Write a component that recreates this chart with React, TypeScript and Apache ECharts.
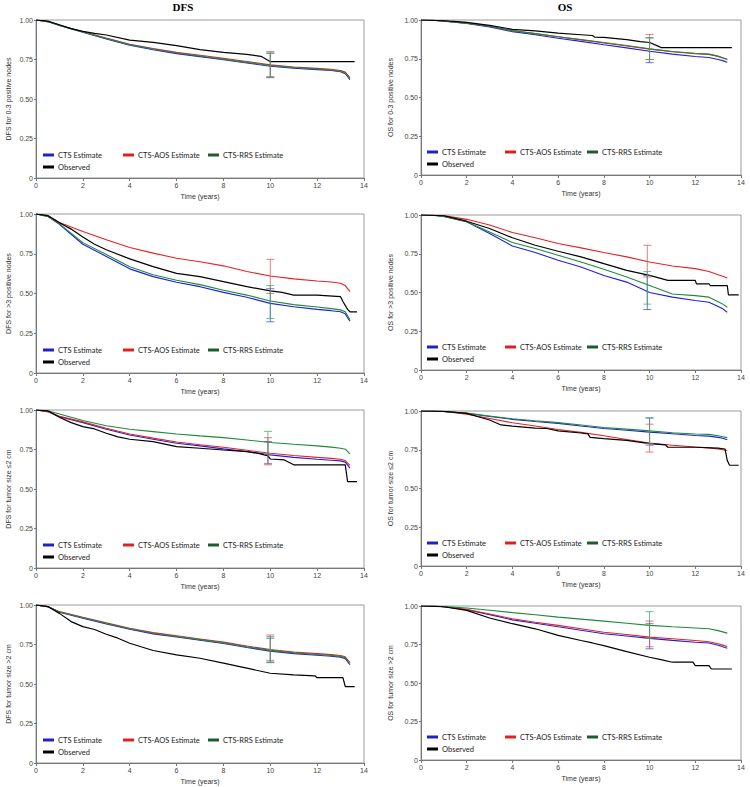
import React, { useEffect, useRef } from "react";
import * as echarts from "echarts";

// ---- shared time grid for model estimates ----
const estTimes = [0, 0.5, 1, 2, 3, 4, 5, 6, 7, 8, 9, 10, 11, 12, 12.6, 13, 13.2, 13.4];
const seriesNames = ["CTS Estimate", "CTS-AOS Estimate", "CTS-RRS Estimate", "Observed"];
const xTicks = [0, 2, 4, 6, 8, 10, 12, 14];
const yTicks = [0, 0.25, 0.5, 0.75, 1];

// ---- Panel 1: DFS, 0-3 positive nodes ----
const dfsN03Cts = [1, 0.99, 0.965, 0.922, 0.88, 0.84, 0.812, 0.787, 0.768, 0.748, 0.728, 0.707, 0.695, 0.686, 0.68, 0.672, 0.66, 0.622];
const dfsN03Aos = [1, 0.99, 0.967, 0.926, 0.886, 0.847, 0.82, 0.795, 0.777, 0.757, 0.737, 0.716, 0.703, 0.694, 0.688, 0.68, 0.67, 0.635];
const dfsN03Rrs = [1, 0.99, 0.966, 0.924, 0.883, 0.844, 0.816, 0.791, 0.772, 0.752, 0.732, 0.712, 0.699, 0.69, 0.684, 0.676, 0.665, 0.628];
const dfsN03Obs = [[0, 1], [0.5, 0.993], [1, 0.97], [1.5, 0.945], [2, 0.928], [2.5, 0.915], [3, 0.905], [4, 0.873], [5, 0.858], [6, 0.838], [7, 0.813], [8, 0.795], [9, 0.782], [9.6, 0.77], [9.9, 0.745], [10, 0.736], [13.6, 0.736]];
const dfsN03Ci = [[10, 0.635, 0.79], [10, 0.64, 0.8], [10, 0.64, 0.79]];

// ---- Panel 2: OS, 0-3 positive nodes ----
const osN03Cts = [1, 0.998, 0.993, 0.978, 0.955, 0.925, 0.905, 0.882, 0.862, 0.84, 0.82, 0.798, 0.78, 0.765, 0.758, 0.745, 0.738, 0.728];
const osN03Aos = [1, 0.998, 0.994, 0.98, 0.96, 0.932, 0.912, 0.892, 0.872, 0.852, 0.832, 0.812, 0.795, 0.782, 0.778, 0.765, 0.755, 0.745];
const osN03Rrs = [1, 0.998, 0.994, 0.98, 0.96, 0.93, 0.912, 0.892, 0.874, 0.855, 0.835, 0.814, 0.797, 0.785, 0.78, 0.767, 0.757, 0.747];
const osN03Obs = [[0, 1], [1, 0.995], [1.6, 0.99], [2, 0.985], [3, 0.965], [3.8, 0.945], [4, 0.94], [5, 0.93], [6, 0.915], [7, 0.905], [7.5, 0.9], [7.6, 0.89], [8, 0.888], [9, 0.873], [9.6, 0.86], [10, 0.855], [10.4, 0.83], [10.5, 0.822], [13.6, 0.822]];
const osN03Ci = [[10, 0.725, 0.885], [10, 0.745, 0.907], [10, 0.745, 0.885]];

// ---- Panel 3: DFS, >3 positive nodes ----
const dfsN4Cts = [1, 0.985, 0.935, 0.81, 0.733, 0.655, 0.606, 0.571, 0.543, 0.507, 0.476, 0.438, 0.417, 0.4, 0.392, 0.385, 0.372, 0.326];
const dfsN4Aos = [1, 0.99, 0.947, 0.89, 0.838, 0.789, 0.754, 0.722, 0.7, 0.674, 0.638, 0.61, 0.592, 0.579, 0.572, 0.564, 0.55, 0.512];
const dfsN4Rrs = [1, 0.985, 0.938, 0.82, 0.745, 0.668, 0.618, 0.583, 0.556, 0.52, 0.49, 0.453, 0.43, 0.415, 0.405, 0.397, 0.385, 0.335];
const dfsN4Obs = [[0, 1], [0.5, 0.99], [1, 0.945], [1.5, 0.905], [2, 0.855], [2.5, 0.81], [3, 0.775], [4, 0.718], [5, 0.669], [6, 0.627], [7, 0.606], [8, 0.575], [9, 0.543], [10, 0.516], [10.5, 0.507], [11, 0.49], [12, 0.49], [13, 0.48], [13.1, 0.45], [13.3, 0.4], [13.4, 0.385], [13.7, 0.385]];
const dfsN4Ci = [[10, 0.322, 0.53], [10, 0.5, 0.715], [10, 0.343, 0.55]];

// ---- Panel 4: OS, >3 positive nodes ----
const osN4Cts = [1, 0.998, 0.99, 0.957, 0.88, 0.8, 0.758, 0.708, 0.665, 0.61, 0.567, 0.5, 0.47, 0.448, 0.437, 0.41, 0.395, 0.372];
const osN4Aos = [1, 0.998, 0.996, 0.972, 0.935, 0.887, 0.853, 0.816, 0.788, 0.758, 0.73, 0.697, 0.671, 0.654, 0.636, 0.615, 0.605, 0.593];
const osN4Rrs = [1, 0.998, 0.99, 0.957, 0.89, 0.822, 0.784, 0.74, 0.697, 0.65, 0.6, 0.545, 0.49, 0.48, 0.47, 0.44, 0.425, 0.405];
const osN4Obs = [[0, 1], [1, 0.995], [2, 0.96], [3, 0.913], [4, 0.853], [5, 0.805], [6, 0.766], [7, 0.73], [8, 0.686], [9, 0.643], [10, 0.61], [10.8, 0.578], [12, 0.578], [12.05, 0.556], [12.6, 0.556], [12.65, 0.545], [13.4, 0.545], [13.45, 0.485], [13.9, 0.485]];
const osN4Ci = [[9.9, 0.39, 0.61], [9.9, 0.6, 0.805], [9.9, 0.425, 0.635]];

// ---- Panel 5: DFS, tumor size <=2 cm ----
const dfsT2Cts = [1, 0.99, 0.958, 0.92, 0.878, 0.842, 0.815, 0.79, 0.773, 0.754, 0.737, 0.716, 0.7, 0.688, 0.682, 0.678, 0.67, 0.632];
const dfsT2Aos = [1, 0.99, 0.96, 0.925, 0.884, 0.848, 0.822, 0.797, 0.78, 0.764, 0.745, 0.726, 0.712, 0.7, 0.694, 0.688, 0.68, 0.65];
const dfsT2Rrs = [1, 0.995, 0.975, 0.933, 0.9, 0.878, 0.863, 0.848, 0.836, 0.825, 0.81, 0.794, 0.783, 0.773, 0.765, 0.758, 0.752, 0.722];
const dfsT2Obs = [[0, 1], [0.5, 0.995], [1, 0.954], [1.5, 0.92], [2, 0.895], [2.5, 0.88], [3, 0.853], [3.5, 0.83], [4, 0.815], [5, 0.8], [6, 0.768], [7, 0.758], [8, 0.747], [9, 0.737], [9.5, 0.725], [9.9, 0.71], [10, 0.69], [10.6, 0.684], [11, 0.653], [13.2, 0.653], [13.3, 0.547], [13.7, 0.547]];
const dfsT2Ci = [[9.9, 0.66, 0.8], [9.9, 0.653, 0.825], [9.9, 0.72, 0.865]];

// ---- Panel 6: OS, tumor size <=2 cm ----
const osT2Cts = [1, 1, 0.997, 0.985, 0.965, 0.946, 0.932, 0.92, 0.903, 0.887, 0.876, 0.864, 0.853, 0.842, 0.838, 0.83, 0.824, 0.814];
const osT2Aos = [1, 1, 0.997, 0.98, 0.952, 0.924, 0.903, 0.881, 0.862, 0.84, 0.816, 0.794, 0.779, 0.768, 0.762, 0.755, 0.75, 0.745];
const osT2Rrs = [1, 1, 0.997, 0.986, 0.968, 0.95, 0.937, 0.925, 0.91, 0.894, 0.883, 0.872, 0.86, 0.852, 0.849, 0.84, 0.834, 0.828];
const osT2Obs = [[0, 1], [1, 0.998], [2, 0.985], [2.5, 0.963], [3, 0.942], [3.5, 0.91], [4, 0.903], [5, 0.89], [5.5, 0.887], [6, 0.872], [7, 0.858], [7.3, 0.852], [7.4, 0.83], [8, 0.822], [9, 0.81], [10, 0.79], [10.7, 0.782], [10.8, 0.766], [12, 0.766], [13, 0.76], [13.3, 0.755], [13.4, 0.68], [13.5, 0.65], [13.9, 0.65]];
const osT2Ci = [[10, 0.78, 0.955], [10, 0.735, 0.915], [10, 0.79, 0.955]];

// ---- Panel 7: DFS, tumor size >2 cm ----
const dfsT3Cts = [1, 0.99, 0.954, 0.916, 0.88, 0.846, 0.817, 0.797, 0.777, 0.756, 0.731, 0.708, 0.692, 0.682, 0.676, 0.67, 0.66, 0.622];
const dfsT3Aos = [1, 0.99, 0.958, 0.922, 0.887, 0.853, 0.825, 0.805, 0.785, 0.765, 0.74, 0.718, 0.702, 0.692, 0.686, 0.68, 0.672, 0.635];
const dfsT3Rrs = [1, 0.99, 0.956, 0.919, 0.884, 0.85, 0.821, 0.801, 0.781, 0.761, 0.736, 0.713, 0.697, 0.687, 0.681, 0.675, 0.666, 0.628];
const dfsT3Obs = [[0, 1], [0.5, 0.99], [1, 0.947], [1.5, 0.895], [2, 0.863], [2.5, 0.845], [3, 0.815], [3.5, 0.79], [4, 0.758], [5, 0.712], [6, 0.684], [7, 0.663], [8, 0.632], [9, 0.6], [10, 0.568], [11, 0.558], [11.9, 0.552], [12, 0.54], [13.1, 0.54], [13.2, 0.484], [13.6, 0.484]];
const dfsT3Ci = [[10, 0.635, 0.79], [10, 0.65, 0.81], [10, 0.64, 0.8]];

// ---- Panel 8: OS, tumor size >2 cm ----
const osT3Cts = [1, 1, 0.995, 0.976, 0.944, 0.91, 0.888, 0.865, 0.843, 0.82, 0.805, 0.79, 0.777, 0.765, 0.76, 0.745, 0.735, 0.726];
const osT3Aos = [1, 1, 0.995, 0.978, 0.948, 0.917, 0.895, 0.874, 0.852, 0.83, 0.815, 0.798, 0.787, 0.776, 0.768, 0.755, 0.746, 0.737];
const osT3Rrs = [1, 1, 0.996, 0.987, 0.972, 0.957, 0.943, 0.928, 0.915, 0.902, 0.888, 0.874, 0.865, 0.857, 0.852, 0.84, 0.832, 0.824];
const osT3Obs = [[0, 1], [1, 0.995], [2, 0.972], [3, 0.922], [4, 0.885], [5, 0.852], [6, 0.809], [7, 0.776], [7.5, 0.76], [8, 0.743], [9, 0.704], [10, 0.667], [10.5, 0.652], [11, 0.635], [11.9, 0.635], [12, 0.613], [12.6, 0.613], [12.7, 0.591], [13.6, 0.591]];
const osT3Ci = [[10, 0.722, 0.885], [10, 0.735, 0.902], [10, 0.79, 0.963]];

const panels = [
  { yName: "DFS for 0-3 positive nodes", cts: dfsN03Cts, aos: dfsN03Aos, rrs: dfsN03Rrs, obs: dfsN03Obs, ci: dfsN03Ci },
  { yName: "OS for 0-3 positive nodes", cts: osN03Cts, aos: osN03Aos, rrs: osN03Rrs, obs: osN03Obs, ci: osN03Ci },
  { yName: "DFS for >3 positive nodes", cts: dfsN4Cts, aos: dfsN4Aos, rrs: dfsN4Rrs, obs: dfsN4Obs, ci: dfsN4Ci },
  { yName: "OS for >3 positive nodes", cts: osN4Cts, aos: osN4Aos, rrs: osN4Rrs, obs: osN4Obs, ci: osN4Ci },
  { yName: "DFS for tumor size \u22642 cm", cts: dfsT2Cts, aos: dfsT2Aos, rrs: dfsT2Rrs, obs: dfsT2Obs, ci: dfsT2Ci },
  { yName: "OS for tumor size \u22642 cm", cts: osT2Cts, aos: osT2Aos, rrs: osT2Rrs, obs: osT2Obs, ci: osT2Ci },
  { yName: "DFS for tumor size >2 cm", cts: dfsT3Cts, aos: dfsT3Aos, rrs: dfsT3Rrs, obs: dfsT3Obs, ci: dfsT3Ci },
  { yName: "OS for tumor size >2 cm", cts: osT3Cts, aos: osT3Aos, rrs: osT3Rrs, obs: osT3Obs, ci: osT3Ci },
];

const COLORS = ["#2020d8", "#ea2020", "#1f8a38", "#000000"];
const LEGEND_COLORS = ["#2020c8", "#e02020", "#1e5c30", "#000000"];
const CI_COLORS = ["rgba(60,70,220,0.75)", "rgba(225,80,80,0.75)", "rgba(60,170,90,0.75)"];

// layout (pixels)
const gridBoxes = [
  { left: 36, top: 20, width: 328, height: 158 },
  { left: 421, top: 20, width: 320, height: 155 },
  { left: 36, top: 214, width: 328, height: 159 },
  { left: 421, top: 215, width: 320, height: 155 },
  { left: 36, top: 410, width: 328, height: 158 },
  { left: 421, top: 411, width: 320, height: 155 },
  { left: 36, top: 605, width: 328, height: 158 },
  { left: 421, top: 606, width: 320, height: 154 },
];

const AXIS_FONT = "'Liberation Sans', Arial, sans-serif";
const LEGEND_FONT = "Lato, 'Open Sans', sans-serif";

export default function App() {
  const ref = useRef<HTMLDivElement>(null);

  useEffect(() => {
    document.body.style.margin = "0";
    if (!ref.current) return;
    const chart = echarts.init(ref.current, undefined, { renderer: "svg" });

    const grid: any[] = [];
    const xAxis: any[] = [];
    const yAxis: any[] = [];
    const series: any[] = [];
    const legend: any[] = [];

    panels.forEach((p, i) => {
      const g = gridBoxes[i];
      const isRight = i % 2 === 1;
      grid.push({
        left: g.left, top: g.top, width: g.width, height: g.height,
        show: true, borderColor: "#9a9a9a", borderWidth: 1, backgroundColor: "transparent",
      });
      xAxis.push({
        gridIndex: i, type: "value", min: xTicks[0], max: xTicks[xTicks.length - 1], interval: 2,
        name: "Time (years)", nameLocation: "middle", nameGap: 15,
        nameTextStyle: { fontSize: 7, fontFamily: AXIS_FONT, color: "#333" },
        axisLine: { lineStyle: { color: "#777", width: 1 } },
        axisTick: { show: true, length: 3, lineStyle: { color: "#777" } },
        axisLabel: { fontSize: 7, fontFamily: AXIS_FONT, color: "#444", margin: 4 },
        splitLine: { show: false },
      });
      yAxis.push({
        gridIndex: i, type: "value", min: yTicks[0], max: yTicks[yTicks.length - 1], interval: 0.25,
        name: p.yName, nameLocation: "middle", nameGap: isRight ? 27 : 24,
        nameTextStyle: { fontSize: 7, fontFamily: AXIS_FONT, color: "#333" },
        axisLine: { show: true, lineStyle: { color: "#777", width: 1 } },
        axisTick: { show: true, length: 2, lineStyle: { color: "#777" } },
        axisLabel: {
          fontSize: 7, fontFamily: AXIS_FONT, color: "#444", margin: 3,
          formatter: (v: number) => (v === 0 ? "0" : v.toFixed(2)),
        },
        splitLine: { show: false },
      });

      const estArrays = [p.cts, p.aos, p.rrs];
      estArrays.forEach((arr, k) => {
        series.push({
          type: "line", name: seriesNames[k], xAxisIndex: i, yAxisIndex: i,
          data: estTimes.map((t, j) => [t, arr[j]]),
          showSymbol: false, symbol: "none",
          lineStyle: { color: COLORS[k], width: 1.1 },
          itemStyle: { color: LEGEND_COLORS[k] },
          z: 3 + k,
        });
      });
      series.push({
        type: "line", name: seriesNames[3], xAxisIndex: i, yAxisIndex: i,
        data: p.obs, showSymbol: false, symbol: "none",
        lineStyle: { color: COLORS[3], width: 1.2 },
        itemStyle: { color: LEGEND_COLORS[3] },
        z: 6,
      });
      series.push({
        type: "custom", name: "CI", xAxisIndex: i, yAxisIndex: i,
        data: p.ci.map((c, k) => [c[0], c[1], c[2], k]),
        encode: { x: 0, y: [1, 2] },
        z: 7,
        renderItem: (params: any, api: any) => {
          const x = api.value(0);
          const lo = api.value(1);
          const hi = api.value(2);
          const k = api.value(3);
          const pHi = api.coord([x, hi]);
          const pLo = api.coord([x, lo]);
          const w = 4;
          const style = { stroke: CI_COLORS[k], lineWidth: 1 };
          return {
            type: "group",
            children: [
              { type: "line", shape: { x1: pHi[0], y1: pHi[1], x2: pLo[0], y2: pLo[1] }, style },
              { type: "line", shape: { x1: pHi[0] - w, y1: pHi[1], x2: pHi[0] + w, y2: pHi[1] }, style },
              { type: "line", shape: { x1: pLo[0] - w, y1: pLo[1], x2: pLo[0] + w, y2: pLo[1] }, style },
            ],
          };
        },
      });

      const bottom = g.top + g.height;
      const xs = isRight ? [427, 505, 587, 427] : [43, 123, 208, 43];
      const rows = [bottom - 22, bottom - 22, bottom - 22, bottom - 10];
      seriesNames.forEach((nm, k) => {
        legend.push({
          data: [{ name: nm, itemStyle: { color: LEGEND_COLORS[k] } }],
          left: xs[k], top: rows[k] - 5,
          padding: 0, itemGap: 0, itemWidth: 11, itemHeight: 3, icon: "rect",
          selectedMode: false,
          textStyle: { fontSize: 7.5, fontFamily: LEGEND_FONT, color: "#222", padding: [0, 0, 0, -1] },
        });
      });
    });

    chart.setOption({
      animation: false,
      backgroundColor: "#ffffff",
      grid, xAxis, yAxis, series, legend,
      graphic: [
        { type: "text", x: 183, y: 7, style: { text: "DFS", font: "bold 11px 'Liberation Serif', 'Times New Roman', serif", fill: "#000", textAlign: "center", textVerticalAlign: "middle" } },
        { type: "text", x: 565, y: 7, style: { text: "OS", font: "bold 11px 'Liberation Serif', 'Times New Roman', serif", fill: "#000", textAlign: "center", textVerticalAlign: "middle" } },
      ],
    });

    return () => chart.dispose();
  }, []);

  return <div ref={ref} style={{ width: 750, height: 787 }} />;
}
